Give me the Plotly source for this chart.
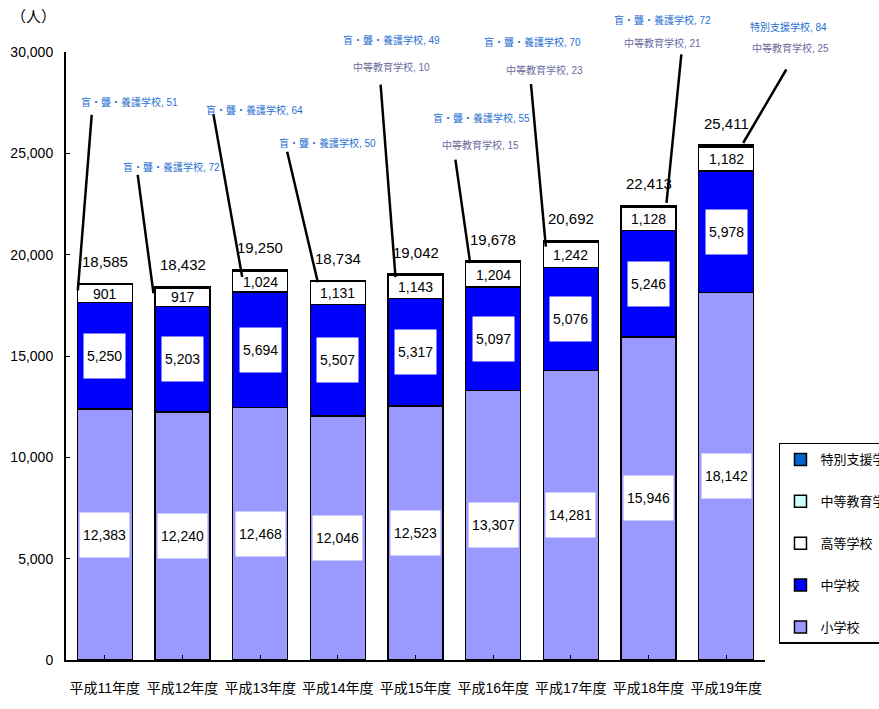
import plotly.graph_objects as go

categories = ["平成11年度", "平成12年度", "平成13年度", "平成14年度", "平成15年度",
              "平成16年度", "平成17年度", "平成18年度", "平成19年度"]
elementary = [12383, 12240, 12468, 12046, 12523, 13307, 14281, 15946, 18142]
junior_high = [5250, 5203, 5694, 5507, 5317, 5097, 5076, 5246, 5978]
high_school = [901, 917, 1024, 1131, 1143, 1204, 1242, 1128, 1182]
secondary = [0, 0, 0, 0, 10, 15, 23, 21, 25]
special = [51, 72, 64, 50, 49, 55, 70, 72, 84]
special_names = ["盲・聾・養護学校"] * 8 + ["特別支援学校"]

series_names = ["小学校", "中学校", "高等学校", "中等教育学校", "特別支援学校"]
series_values = [elementary, junior_high, high_school, secondary, special]
series_colors = ["#9999FF", "#0000FF", "#FFFFFF", "#CCFFFF", "#0066CC"]

NUM_FONT = "Liberation Sans, Arial, Noto Sans CJK JP, sans-serif"
CJK_FONT = "Liberation Sans, Noto Sans CJK JP, sans-serif"

x_idx = list(range(len(categories)))
totals = [sum(v[i] for v in series_values) for i in x_idx]

fig = go.Figure()
for rank, (name, vals, col) in enumerate(zip(series_names, series_values, series_colors)):
    fig.add_trace(go.Bar(
        x=x_idx, y=vals, name=name, legendgroup=name,
        legendrank=1000 - rank,
        marker=dict(color=col, line=dict(color="black", width=1.5)),
        hoverinfo="skip",
    ))

annotations = []
# value labels inside bars
for i in x_idx:
    base = 0
    for k, vals in enumerate(series_values[:3]):
        v = vals[i]
        mid = base + v / 2
        base += v
        if k < 2:
            annotations.append(dict(
                x=i, y=mid, xref="x", yref="y", text=f"{v:,}", showarrow=False,
                font=dict(family=NUM_FONT, size=14, color="black"),
                bgcolor="white", height=38, borderpad=3,
                xanchor="center", yanchor="middle"))
        else:
            annotations.append(dict(
                x=i, y=mid, xref="x", yref="y", text=f"{v:,}", showarrow=False,
                font=dict(family=NUM_FONT, size=14, color="black"),
                xanchor="center", yanchor="middle"))
    # totals
    annotations.append(dict(
        x=i, y=totals[i], xref="x", yref="y", text=f"{totals[i]:,}", showarrow=False,
        font=dict(family=NUM_FONT, size=15, color="black"),
        xanchor="center", yanchor="middle", yshift=22))

# callout label offsets (pixels relative to bar top, +y = up)
label1_off = [(25, 181), (-11, 119), (-6, 160), (-10, 137), (-24, 234),
              (-12, 143), (-38, 199), (14, 186), (62, 118)]
label2_off = [None, None, None, None, (-24, 207), (-13, 116), (-26, 171), (14, 163), (64, 97)]
line_off = [((-13, 170), (-27, -7)), ((-45, 113), (-29, -7)), ((-47, 157), (-18, -7)),
            ((-51, 130), (-20, -2)), ((-35, 191), (-20, -3)), ((-38, 103), (-23, -2)),
            ((-40, 158), (-25, -6)), ((33, 153), (18, 3)), ((61, 77), (17, 2))]

for i in x_idx:
    dx, dy = label1_off[i]
    annotations.append(dict(
        x=i, y=totals[i], xref="x", yref="y",
        text=f"{special_names[i]}, {special[i]}", showarrow=False,
        font=dict(family=CJK_FONT, size=10, color="#1F6FD0"),
        xanchor="center", yanchor="middle", xshift=dx, yshift=dy))
    if secondary[i] > 0 and label2_off[i] is not None:
        dx2, dy2 = label2_off[i]
        annotations.append(dict(
            x=i, y=totals[i], xref="x", yref="y",
            text=f"中等教育学校, {secondary[i]}", showarrow=False,
            font=dict(family=CJK_FONT, size=10, color="#6B6B9E"),
            xanchor="center", yanchor="middle", xshift=dx2, yshift=dy2))
    # leader line: drawn as an annotation arrow ending near the bar top
    (sx, sy), (ex, ey) = line_off[i]
    annotations.append(dict(
        x=i, y=totals[i], xref="x", yref="y", text="", showarrow=True,
        xshift=ex, yshift=ey, ax=sx - ex, ay=-(sy - ey), axref="pixel", ayref="pixel",
        arrowhead=0, arrowwidth=2.5, arrowcolor="black", standoff=0, startstandoff=0))

annotations.append(dict(
    x=(33 - 66) / 699, y=(660 - 17) / 608, xref="paper", yref="paper",
    text="（人）", showarrow=False, xanchor="center", yanchor="middle",
    font=dict(family=CJK_FONT, size=15, color="black")))

fig.update_layout(
    width=879, height=709,
    margin=dict(l=66, r=114, t=52, b=49, autoexpand=False),
    barmode="stack", bargap=0.29,
    plot_bgcolor="white", paper_bgcolor="white",
    font=dict(family=CJK_FONT, color="black"),
    annotations=annotations,
    legend=dict(
        x=1.02, y=0.357, xanchor="left", yanchor="top",
        traceorder="grouped", tracegroupgap=22,
        bordercolor="black", borderwidth=1.5, bgcolor="white",
        font=dict(family="Noto Sans CJK JP, sans-serif", size=13, color="black"),
        itemwidth=30,
    ),
    xaxis=dict(
        range=[-0.5, 8.5], tickmode="array", tickvals=x_idx, ticktext=categories,
        tickangle=0,
        showline=True, linecolor="black", linewidth=2,
        ticks="inside", ticklen=5, tickcolor="black", tickson="boundaries",
        tickfont=dict(family=CJK_FONT, size=14, color="black"),
        ticklabelstandoff=14, showgrid=False, zeroline=False, fixedrange=True,
    ),
    yaxis=dict(
        range=[0, 30000], tickvals=[0, 5000, 10000, 15000, 20000, 25000, 30000],
        tickformat=",d", showline=True, linecolor="black", linewidth=2,
        ticks="inside", ticklen=4, tickcolor="black",
        tickfont=dict(family=NUM_FONT, size=14, color="black"),
        ticklabelstandoff=8, showgrid=False, zeroline=False, fixedrange=True,
    ),
)

fig.write_html("out.html", config={"displayModeBar": False},
               post_script="document.body.style.margin='0';")
